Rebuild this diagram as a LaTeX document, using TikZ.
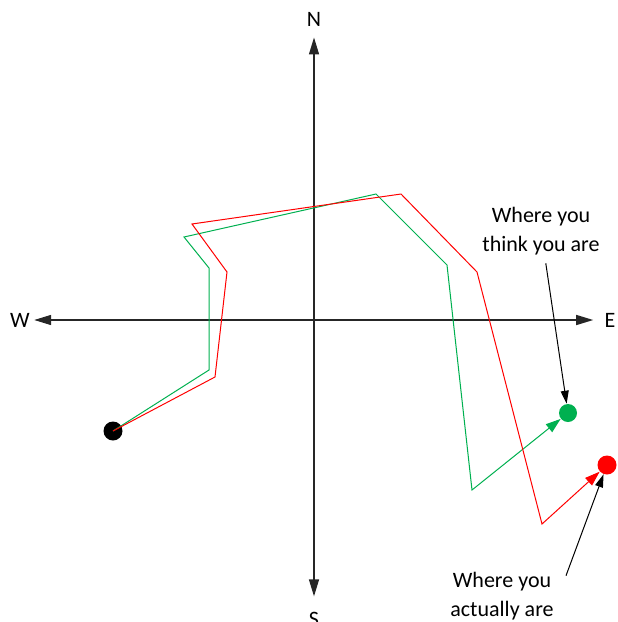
\documentclass[tikz,border=0pt]{standalone}
\usepackage{fontspec}
\setmainfont{Carlito}
\usetikzlibrary{arrows.meta}
\definecolor{trackgreen}{RGB}{0,176,80}
\definecolor{trackred}{RGB}{255,0,0}

\begin{document}
\begin{tikzpicture}[x=0.5pt,y=-0.5pt,dir/.style={font=\fontsize{11}{13}\selectfont,inner sep=2pt},lbl/.style={font=\fontsize{11}{14.5}\selectfont,align=center,inner sep=1pt},axis/.style={{Triangle[length=8.5pt,width=5pt]}-{Triangle[length=8.5pt,width=5pt]},line width=.7pt,draw=black!85},dot/.style={circle,inner sep=0pt,minimum size=9pt},track/.style={line width=.5pt,-{Triangle[length=7.5pt,width=5pt]}},a/.style={-{Triangle[length=6.5pt,width=4pt]},line width=.5pt}]
\useasboundingbox (0,0) rectangle (617,622);
% compass
\node[dir] (N) at (314,19) {N};
\node[dir] (S) at (314,619) {S};
\node[dir] (W) at (20,320) {W};
\node[dir] (E) at (610,320) {E};
\draw[axis,shorten >=3.5pt] (W)--(E); \draw[axis,shorten <=3.5pt,shorten >=5.5pt] (N)--(S);
% positions
\node[dot,fill=black,minimum size=9.5pt] (start) at (113,431) {};
\node[dot,fill=trackgreen] (think) at (568,413) {};
\node[dot,fill=trackred,minimum size=9.5pt] (actual) at (607,465) {};
% tracks
\draw[track,color=trackgreen] (start.center)--(209,370)--(209,268)--(184,237)--(376,194)--(447,265)--(472,490)--(think);
\draw[track,color=trackred] (start.center)--(215,377)--(227,272)--(192,224)--(401,194)--(477,272)--(542,524)--(actual);
% labels
\node[lbl] (thinklbl) at (541,231) {Where you\\think you are};
\node[lbl] (actuallbl) at (502,596) {Where you\\actually are};
\draw[a,shorten <=3pt] (thinklbl)--(think);
\draw[a] ([xshift=5pt,yshift=-3pt]actuallbl.north east)--(actual);
\end{tikzpicture}
\end{document}
